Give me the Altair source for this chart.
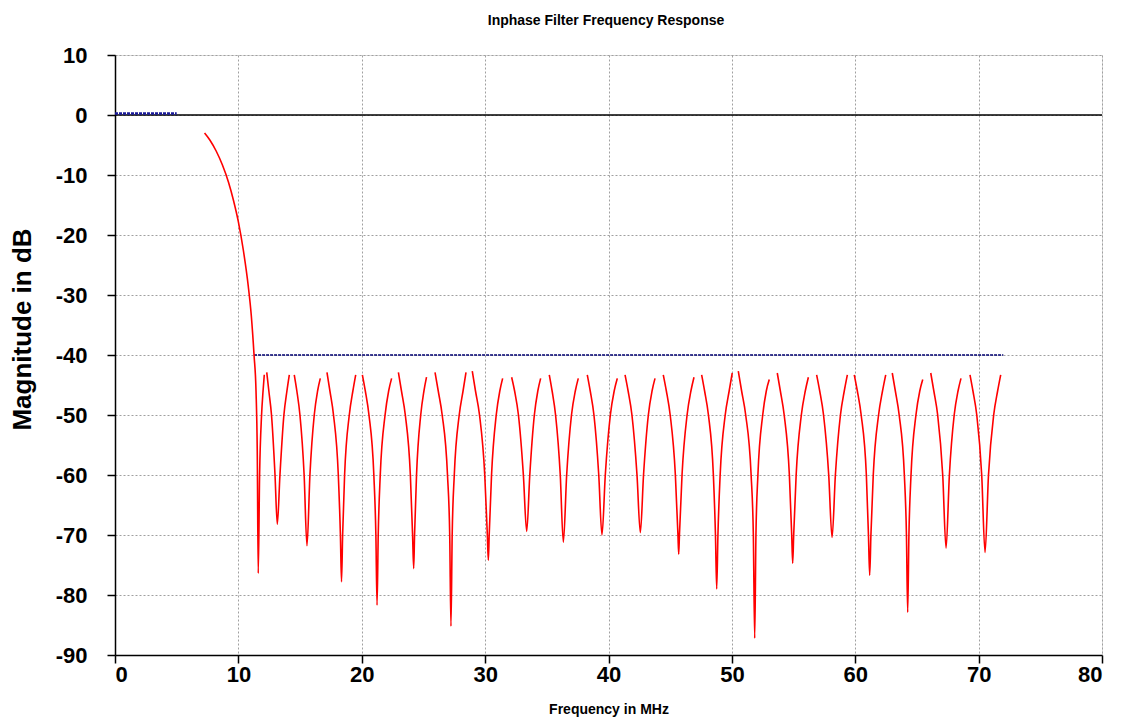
import altair as alt
import pandas as pd

TITLE = "Inphase Filter Frequency Response"
X_TITLE = "Frequency in MHz"
Y_TITLE = "Magnitude in dB"
X_TICKS = [0, 10, 20, 30, 40, 50, 60, 70, 80]
Y_TICKS = [-90, -80, -70, -60, -50, -40, -30, -20, -10, 0, 10]

# Filter response (red), drawn as separate segments, one per stop-band null
SEG_FREQ = [
    [7.26, 7.70, 8.20, 8.70, 9.20, 9.60, 10.00, 10.40, 10.80, 11.05, 11.27, 11.43, 11.53, 11.61, 11.72, 11.88, 12.00, 12.10],
    [12.30, 12.47, 12.685, 12.97, 13.155, 13.37, 13.69, 13.935, 14.13],
    [14.53, 14.74, 14.99, 15.33, 15.56, 15.80, 16.15, 16.42, 16.64],
    [17.18, 17.42, 17.71, 18.10, 18.27, 18.36, 18.45, 18.61, 18.99, 19.28, 19.51],
    [20.05, 20.29, 20.585, 20.98, 21.145, 21.24, 21.335, 21.50, 21.89, 22.18, 22.42],
    [22.97, 23.22, 23.53, 23.94, 24.12, 24.21, 24.28, 24.44, 24.78, 25.04, 25.25],
    [25.94, 26.20, 26.52, 26.95, 27.13, 27.23, 27.33, 27.50, 27.90, 28.21, 28.45],
    [28.96, 29.22, 29.545, 29.97, 30.18, 30.26, 30.33, 30.52, 30.90, 31.19, 31.42],
    [32.15, 32.39, 32.70, 33.10, 33.37, 33.62, 33.99, 34.27, 34.50],
    [35.20, 35.43, 35.71, 36.09, 36.34, 36.61, 37.00, 37.31, 37.55],
    [38.28, 38.52, 38.82, 39.21, 39.47, 39.74, 40.15, 40.46, 40.71],
    [41.34, 41.59, 41.90, 42.31, 42.58, 42.84, 43.23, 43.53, 43.77],
    [44.44, 44.69, 45.00, 45.42, 45.63, 45.69, 45.75, 45.96, 46.37, 46.68, 46.93],
    [47.55, 47.79, 48.10, 48.50, 48.67, 48.77, 48.87, 49.05, 49.46, 49.78, 50.03],
    [50.52, 50.79, 51.12, 51.56, 51.74, 51.85, 51.95, 52.11, 52.50, 52.79, 53.03],
    [53.68, 53.93, 54.24, 54.66, 54.85, 54.93, 55.01, 55.21, 55.63, 55.95, 56.20],
    [56.87, 57.12, 57.43, 57.85, 58.12, 58.39, 58.80, 59.11, 59.36],
    [59.92, 60.17, 60.48, 60.90, 61.07, 61.17, 61.27, 61.46, 61.89, 62.21, 62.47],
    [63.00, 63.25, 63.56, 63.98, 64.15, 64.25, 64.35, 64.52, 64.92, 65.23, 65.47],
    [66.12, 66.37, 66.68, 67.09, 67.36, 67.63, 68.02, 68.33, 68.57],
    [69.30, 69.54, 69.85, 70.25, 70.52, 70.80, 71.22, 71.54, 71.79],
]
SEG_DB = [
    [-3.0, -4.2, -6.0, -8.3, -11.2, -14.2, -17.8, -22.5, -28.5, -33.5, -40.0, -46.0, -56.0, -76.4, -60.0, -50.0, -46.0, -43.3],
    [-42.9, -46, -50, -60, -68.2, -60, -50, -46, -43.3],
    [-43.3, -46, -50, -60, -71.8, -60, -50, -46, -43.9],
    [-42.9, -46, -50, -60, -70, -77.8, -70, -60, -50, -46, -43.3],
    [-43.3, -46, -50, -60, -70, -81.7, -70, -60, -50, -46, -43.9],
    [-42.9, -46, -50, -60, -70, -75.6, -70, -60, -50, -46, -43.7],
    [-42.9, -46, -50, -60, -70, -85.2, -70, -60, -50, -46, -42.9],
    [-42.7, -46, -50, -60, -70, -74.2, -70, -60, -50, -46, -43.9],
    [-43.7, -46, -50, -60, -69.4, -60, -50, -46, -43.9],
    [-43.3, -46, -50, -60, -71.2, -60, -50, -46, -43.9],
    [-43.3, -46, -50, -60, -70.0, -60, -50, -46, -43.9],
    [-43.3, -46, -50, -60, -69.6, -60, -50, -46, -43.9],
    [-43.3, -46, -50, -60, -70, -73.2, -70, -60, -50, -46, -43.7],
    [-43.3, -46, -50, -60, -70, -79.0, -70, -60, -50, -46, -43.0],
    [-42.7, -46, -50, -60, -70, -87.2, -70, -60, -50, -46, -44.1],
    [-43.0, -46, -50, -60, -70, -74.7, -70, -60, -50, -46, -43.7],
    [-43.3, -46, -50, -60, -70.4, -60, -50, -46, -43.3],
    [-43.3, -46, -50, -60, -70, -76.7, -70, -60, -50, -46, -43.3],
    [-43.0, -46, -50, -60, -70, -82.9, -70, -60, -50, -46, -44.1],
    [-43.0, -46, -50, -60, -72.2, -60, -50, -46, -43.9],
    [-43.3, -46, -50, -60, -72.9, -60, -50, -46, -43.3],
]

# Specification masks (blue dashed) and 0 dB reference (black)
PASS_F = [0.0, 5.0]
PASS_DB = [0.25, 0.25]
STOP_F = [11.27, 72.0]
STOP_DB = [-40.0, -40.0]
ZERO_F = [0.0, 80.0]
ZERO_DB = [0.0, 0.0]

rows = []
for i, (fs, ds) in enumerate(zip(SEG_FREQ, SEG_DB)):
    for k, (f, d) in enumerate(zip(fs, ds)):
        rows.append({"seg": i, "order": k, "f": f, "db": d})
resp = pd.DataFrame(rows)
passband = pd.DataFrame({"f": PASS_F, "db": PASS_DB})
stopband = pd.DataFrame({"f": STOP_F, "db": STOP_DB})
zero = pd.DataFrame({"f": ZERO_F, "db": ZERO_DB})
title_df = pd.DataFrame({"t": [TITLE]})

FONT = "Liberation Sans"

x_enc = alt.X(
    "f:Q",
    scale=alt.Scale(domain=[0, 80], nice=False, zero=False),
    axis=alt.Axis(
        values=X_TICKS,
        labelExpr="'' + datum.value",
        title=X_TITLE,
        titleFont=FONT,
        titleFontSize=14,
        titleFontWeight="bold",
        titleColor="black",
        titleBaseline="alphabetic",
        titleY=58,
        labelFont=FONT,
        labelFontSize=22,
        labelFontWeight="bold",
        labelColor="black",
        labelPadding=1,
        tickSize=8,
        tickColor="black",
        tickWidth=1.5,
        domainColor="black",
        domainWidth=1.5,
        grid=True,
        gridColor="#a0a0a0",
        gridDash=[2, 2],
        gridWidth=1,
    ),
)
y_enc = alt.Y(
    "db:Q",
    scale=alt.Scale(domain=[-90, 10], nice=False, zero=False),
    axis=alt.Axis(
        values=Y_TICKS,
        labelExpr="'' + datum.value",
        title=Y_TITLE,
        titleFont=FONT,
        titleFontSize=26,
        titleFontWeight="bold",
        titleColor="black",
        titleAngle=270,
        titleAlign="center",
        titleBaseline="middle",
        titleX=-93,
        titleY=274,
        labelFont=FONT,
        labelFontSize=22,
        labelFontWeight="bold",
        labelColor="black",
        labelPadding=20,
        tickSize=8,
        tickColor="black",
        tickWidth=1.5,
        domainColor="black",
        domainWidth=1.5,
        grid=True,
        gridColor="#a0a0a0",
        gridDash=[2, 2],
        gridWidth=1,
    ),
)

zero_line = alt.Chart(zero).mark_line(color="black", strokeWidth=1.3).encode(
    x=x_enc, y=y_enc
)
pass_line = alt.Chart(passband).mark_line(
    color="#1a1a9a", strokeWidth=2.5, strokeDash=[3, 1]
).encode(x="f:Q", y="db:Q")
stop_line = alt.Chart(stopband).mark_line(
    color="#000070", strokeWidth=1.5, strokeDash=[3, 1]
).encode(x="f:Q", y="db:Q")
resp_line = alt.Chart(resp).mark_line(
    color="#ff0000", strokeWidth=1.6, interpolate="monotone"
).encode(x="f:Q", y="db:Q", detail="seg:N", order="order:Q")
title_text = alt.Chart(title_df).mark_text(
    font=FONT, fontSize=14, fontWeight="bold", color="black",
    align="center", baseline="alphabetic"
).encode(x=alt.value(491), y=alt.value(-30), text="t:N")

chart = (
    alt.layer(zero_line, stop_line, resp_line, pass_line, title_text)
    .properties(
        width=987,
        height=600,
        autosize=alt.AutoSizeParams(type="none"),
        padding={"left": 107, "top": 47, "right": 12, "bottom": 64},
    )
    .configure_view(stroke="transparent")
    .configure(background="white")
)

chart.save("out.html", embed_options={"renderer": "svg", "actions": False})
